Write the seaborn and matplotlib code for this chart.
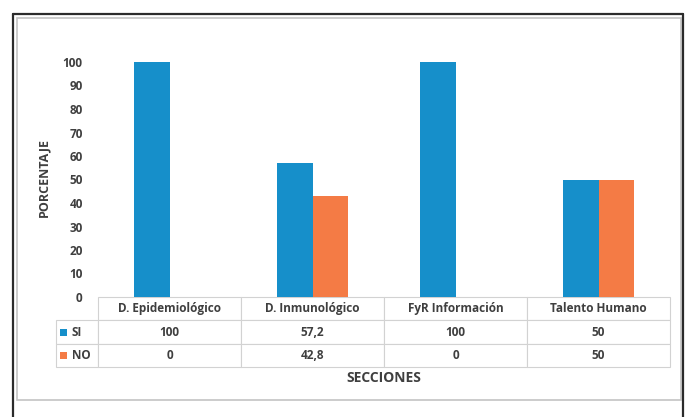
import matplotlib
matplotlib.use("Agg")
import matplotlib.pyplot as plt
from matplotlib.patches import Rectangle
from matplotlib.lines import Line2D
import seaborn as sns
import pandas as pd

# Data
secciones = ["D. Epidemiológico", "D. Inmunológico", "FyR Información", "Talento Humano"]
si_vals = [100, 57.2, 100, 50]
no_vals = [0, 42.8, 0, 50]
si_labels = ["100", "57,2", "100", "50"]
no_labels = ["0", "42,8", "0", "50"]
y_ticks = [0, 10, 20, 30, 40, 50, 60, 70, 80, 90, 100]

SI_COLOR = "#168FCA"
NO_COLOR = "#F47B45"
TXT = "#3f3f3f"

sns.set_theme(style="white")
plt.rcParams["font.family"] = ["Open Sans", "DejaVu Sans"]

df = pd.DataFrame({
    "Sección": secciones * 2,
    "Valor": si_vals + no_vals,
    "Serie": ["SI"] * len(secciones) + ["NO"] * len(secciones),
})

W, H = 686, 417
fig = plt.figure(figsize=(W / 100, H / 100), dpi=100)
fig.patch.set_facecolor("white")

# outer frame and inner chart box
fig.add_artist(Line2D([13 / W, 13 / W], [0, 1 - 14 / H], transform=fig.transFigure, color="#2b2b2b", lw=1.6))
fig.add_artist(Line2D([683 / W, 683 / W], [0, 1 - 14 / H], transform=fig.transFigure, color="#2b2b2b", lw=1.6))
fig.add_artist(Line2D([13 / W, 683 / W], [1 - 14 / H, 1 - 14 / H], transform=fig.transFigure, color="#2b2b2b", lw=1.6))
fig.add_artist(Rectangle((17 / W, 1 - 400 / H), (681 - 17) / W, (400 - 18) / H,
                         transform=fig.transFigure, fill=False, edgecolor="#c4c4c4", lw=1.2))

ax_l, ax_r, ax_t, ax_b = 98, 670, 62, 297
ax = fig.add_axes([ax_l / W, 1 - ax_b / H, (ax_r - ax_l) / W, (ax_b - ax_t) / H])
pw, ph = ax_r - ax_l, ax_b - ax_t

sns.barplot(data=df, x="Sección", y="Valor", hue="Serie", order=secciones,
            hue_order=["SI", "NO"], palette=[SI_COLOR, NO_COLOR],
            width=0.5, gap=0, saturation=1, legend=False, linewidth=0, ax=ax)

ax.set_xlim(-0.5, len(secciones) - 0.5)
ax.set_ylim(0, 100)
ax.set_yticks(y_ticks)
ax.set_yticklabels([str(t) for t in y_ticks], fontsize=8.5, fontweight="bold", color=TXT)
ax.tick_params(axis="y", length=0, pad=11)
ax.set_xticks([])
ax.set_xlabel("")
for s in ax.spines.values():
    s.set_visible(False)

ax.set_ylabel("PORCENTAJE", fontsize=9, fontweight="bold", color=TXT)
ax.yaxis.set_label_coords((44 - ax_l) / pw, 0.51)
ax.yaxis.label.set_va("center")

# data table under the plot
cell_text = [[""] + secciones, [""] + si_labels, [""] + no_labels]
tab_left, tab_bottom = 56, 367
tbl = ax.table(cellText=cell_text, cellLoc="center",
               colWidths=[42, 143, 143, 143, 143],
               bbox=[(tab_left - ax_l) / pw, -(tab_bottom - ax_b) / ph,
                     (ax_r - tab_left) / pw, (tab_bottom - ax_b) / ph])
tbl.auto_set_font_size(False)
for (r, c), cell in tbl.get_celld().items():
    cell.set_edgecolor("#d2d2d2")
    cell.set_linewidth(0.8)
    cell.get_text().set_fontsize(8.5)
    cell.get_text().set_fontweight("bold")
    cell.get_text().set_color(TXT)
    if r == 0 and c == 0:
        cell.visible_edges = ""

row_h = (tab_bottom - ax_b) / 3
for i, (lab, col) in enumerate([("SI", SI_COLOR), ("NO", NO_COLOR)]):
    yc = ax_b + row_h * (i + 1.5)
    ax.add_patch(Rectangle(((60 - ax_l) / pw, -(yc + 3.5 - ax_b) / ph), 7 / pw, 7 / ph,
                           transform=ax.transAxes, clip_on=False, color=col, lw=0))
    ax.text((72 - ax_l) / pw, -(yc - ax_b) / ph, lab, transform=ax.transAxes,
            ha="left", va="center", fontsize=8.5, fontweight="bold", color=TXT)

ax.text(0.5, -(378 - ax_b) / ph, "SECCIONES", transform=ax.transAxes,
        ha="center", va="center", fontsize=10, fontweight="bold", color=TXT)

fig.savefig("out.png", dpi=100, facecolor="white")
